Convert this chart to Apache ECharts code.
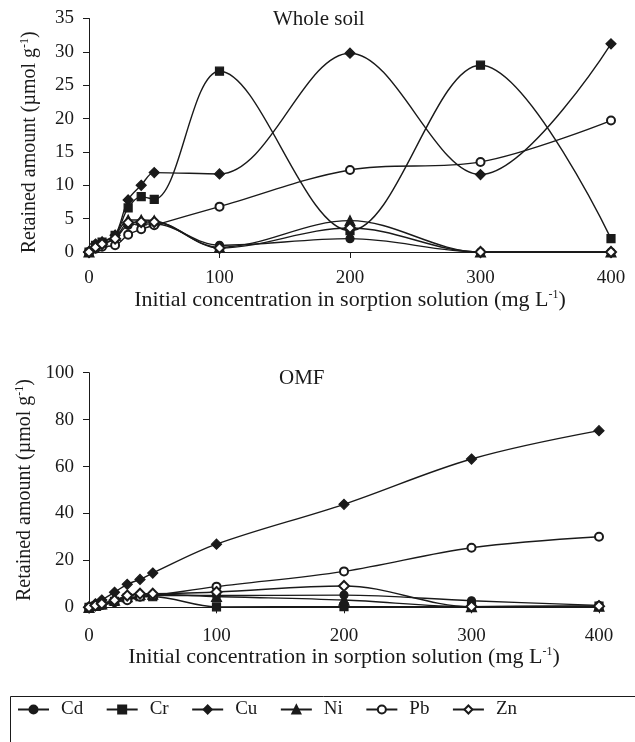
<!DOCTYPE html>
<html>
<head>
<meta charset="utf-8">
<script src="https://cdn.jsdelivr.net/npm/echarts@6/dist/echarts.min.js"></script>
<style>
  html, body { margin: 0; padding: 0; background: #fff; }
  #chart { width: 635px; height: 742px; }
</style>
</head>
<body>
<div id="chart"></div>
<script>
// initial concentration (mg/L)
const conc = [0, 5, 10, 20, 30, 40, 50, 100, 200, 300, 400]
const metals = ['Cd', 'Cr', 'Cu', 'Ni', 'Pb', 'Zn']

// whole soil, retained amount (umol/g)
const wsCd = [0, 0.8, 1.2, 2.0, 4.0, 4.2, 4.2, 1.0, 2.0, 0, 0]
const wsCr = [0, 1.0, 1.5, 2.5, 6.6, 8.3, 7.9, 27.1, 3.2, 28.0, 2.0]
const wsCu = [0, 1.2, 1.5, 2.5, 7.8, 10.0, 11.9, 11.7, 29.8, 11.6, 31.2]
const wsNi = [0, 1.0, 1.5, 2.5, 4.8, 4.8, 4.7, 0.7, 4.7, 0, 0]
const wsPb = [0, 0.5, 0.8, 1.0, 2.6, 3.4, 4.0, 6.8, 12.3, 13.5, 19.7]
const wsZn = [0, 0.7, 1.2, 2.0, 4.4, 4.5, 4.5, 0.6, 3.6, 0, 0]

// OMF, retained amount (umol/g)
const omCd = [0, 0.5, 1.0, 2.0, 3.5, 4.5, 5.0, 5.0, 5.2, 2.8, 0.8]
const omCr = [0, 0.5, 1.0, 2.5, 4.0, 4.5, 4.5, 0.2, 0.3, 0.3, 0.5]
const omCu = [0, 1.5, 3.1, 6.4, 9.8, 11.9, 14.6, 26.9, 43.9, 63.2, 75.3]
const omNi = [0, 0.8, 1.5, 3.0, 4.5, 5.5, 5.6, 4.6, 3.1, 0.3, 0.5]
const omPb = [0, 0.5, 1.0, 2.4, 3.0, 4.5, 5.0, 8.8, 15.3, 25.4, 30.1]
const omZn = [0, 0.8, 1.5, 3.0, 5.0, 5.8, 5.8, 6.5, 9.1, 0.3, 0.5]

const wholeSoil = [wsCd, wsCr, wsCu, wsNi, wsPb, wsZn]
const omf = [omCd, omCr, omCu, omNi, omPb, omZn]

const SYMBOLS = ['circle', 'rect', 'diamond', 'triangle', 'emptyCircle', 'emptyDiamond']
const SIZES = [8, 8, 10, 10, 8, 10]
const FONT = "'Liberation Serif', 'Times New Roman', serif"
const INK = '#1a1a1a'

const chart = echarts.init(document.getElementById('chart'), null, { renderer: 'canvas' })

const supStyle = { fontFamily: FONT, fontSize: 12, color: INK, verticalAlign: 'top', padding: [0, 0, 9, 0] }

const xAxisBase = (gridIndex, gap, margin) => ({
  gridIndex,
  type: 'value',
  min: 0,
  max: 400,
  interval: 100,
  name: 'Initial concentration in sorption solution (mg L{sup|-1})',
  nameLocation: 'middle',
  nameGap: gap,
  nameTextStyle: { fontFamily: FONT, fontSize: 22, color: INK, rich: { sup: supStyle } },
  axisLine: { lineStyle: { color: INK, width: 1 } },
  axisTick: { length: 6, lineStyle: { color: INK } },
  axisLabel: { fontFamily: FONT, fontSize: 19, color: INK, margin },
  splitLine: { show: false },
})

const yAxisBase = (gridIndex, max, interval, namePad) => ({
  gridIndex,
  type: 'value',
  min: 0,
  max,
  interval,
  name: 'Retained amount (µmol g{sup|-1})',
  nameLocation: 'middle',
  nameGap: 49,
  nameTextStyle: { fontFamily: FONT, fontSize: 20, color: INK, padding: namePad, rich: { sup: supStyle } },
  axisLine: { show: true, lineStyle: { color: INK, width: 1 } },
  axisTick: { show: true, length: 6, lineStyle: { color: INK } },
  axisLabel: { fontFamily: FONT, fontSize: 19, color: INK, margin: 15 },
  splitLine: { show: false },
})

const makeSeries = (sets, idx) => sets.map((vals, i) => ({
  name: metals[i],
  type: 'line',
  xAxisIndex: idx,
  yAxisIndex: idx,
  smooth: 0.35,
  symbol: SYMBOLS[i],
  symbolSize: SIZES[i],
  lineStyle: { color: INK, width: 1.4 },
  itemStyle: { color: INK, borderColor: INK, borderWidth: 1.2 },
  emphasis: { disabled: true },
  data: conc.map((c, k) => [c, vals[k]]),
}))

const option = {
  animation: false,
  backgroundColor: '#fff',
  title: [
    { text: 'Whole soil', left: 268, top: 4, textStyle: { fontFamily: FONT, fontSize: 21, fontWeight: 'normal', color: INK } },
    { text: 'OMF', left: 274, top: 363, textStyle: { fontFamily: FONT, fontSize: 21, fontWeight: 'normal', color: INK } },
  ],
  grid: [
    { left: 89, right: 24, top: 18.5, height: 233.5 },
    { left: 89, right: 36, top: 372.7, height: 234.6 },
  ],
  xAxis: [xAxisBase(0, 32, 17), xAxisBase(1, 36, 19)],
  yAxis: [yAxisBase(0, 35, 5, [0, 14, 0, 0]), yAxisBase(1, 100, 20, 0)],
  legend: {
    data: metals,
    left: 12,
    top: 695,
    itemWidth: 31,
    itemHeight: 10,
    itemGap: 22.5,
    textStyle: { fontFamily: FONT, fontSize: 19, color: INK, padding: [0, 0, 0, 7] },
  },
  graphic: [
    { type: 'rect', left: 8, top: 694, shape: { width: 700, height: 80 }, style: { fill: 'none', stroke: INK, lineWidth: 1 } },
  ],
  series: [...makeSeries(wholeSoil, 0), ...makeSeries(omf, 1)],
}

chart.setOption(option)
</script>
</body>
</html>
